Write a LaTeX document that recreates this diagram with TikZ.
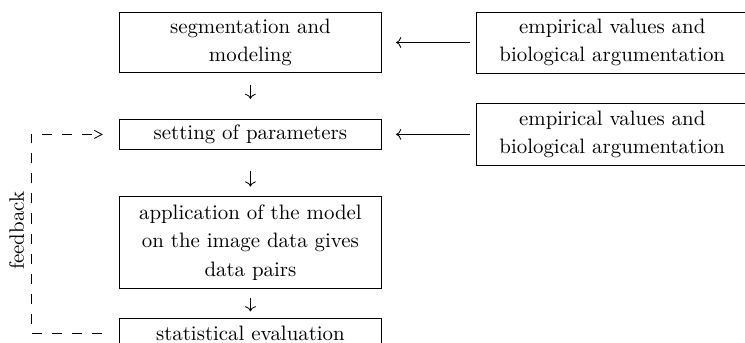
\documentclass[tikz,border=0pt]{standalone}
\usepackage{tikz}
\usetikzlibrary{arrows.meta,positioning}

\begin{document}
\begin{tikzpicture}[
  font=\fontsize{10}{13.6}\selectfont,
  stage/.style={draw, align=center, minimum width=126pt, inner ysep=2.5pt},
  src/.style={draw, align=center, minimum width=130pt, minimum height=29pt},
  arr/.style={->, line width=0.4pt},
  fb/.style={-{Straight Barb[length=3.7pt, width=3.9pt]}, line width=0.4pt,
             dash pattern=on 4.8pt off 4.8pt},
  node distance=22pt and 45pt,
]
\useasboundingbox (0,0) rectangle (357pt,-163.9pt);

\node[stage, minimum height=28.9pt] (seg) at (120pt,-20.35pt) {segmentation and\\modeling};
\node[stage, minimum height=14.4pt, below=of seg] (param) {setting of parameters};
\node[stage, minimum height=44.2pt, below=of param] (apply) {application of the model\\on the image data gives\\data pairs};
\node[stage, minimum height=14pt, below=14pt of apply] (eval) {statistical evaluation};
\node[src, right=of seg] (emp1) {empirical values and\\biological argumentation};
\node[src, right=of param] (emp2) {empirical values and\\biological argumentation};
\node[rotate=90, inner sep=0pt] (fbtext) at (8pt,-110.6pt) {feedback};
\coordinate (fbx) at (14.9pt,-110.6pt);

\draw[arr, shorten <=5.6pt, shorten >=9.6pt] (seg) -- (param);
\draw[arr, shorten <=10pt, shorten >=4.4pt] (param) -- (apply);
\draw[arr, shorten <=4.3pt, shorten >=3.2pt] (apply) -- (eval);
\draw[arr, shorten <=3.2pt, shorten >=6.6pt] (emp1) -- (seg);
\draw[arr, shorten <=3.2pt, shorten >=6.6pt] (emp2) -- (param);

% feedback loop back to the parameters
\draw[fb, shorten <=8pt, shorten >=7.5pt] (eval.west) -| (fbx) |- (param.west);
\end{tikzpicture}
\end{document}
